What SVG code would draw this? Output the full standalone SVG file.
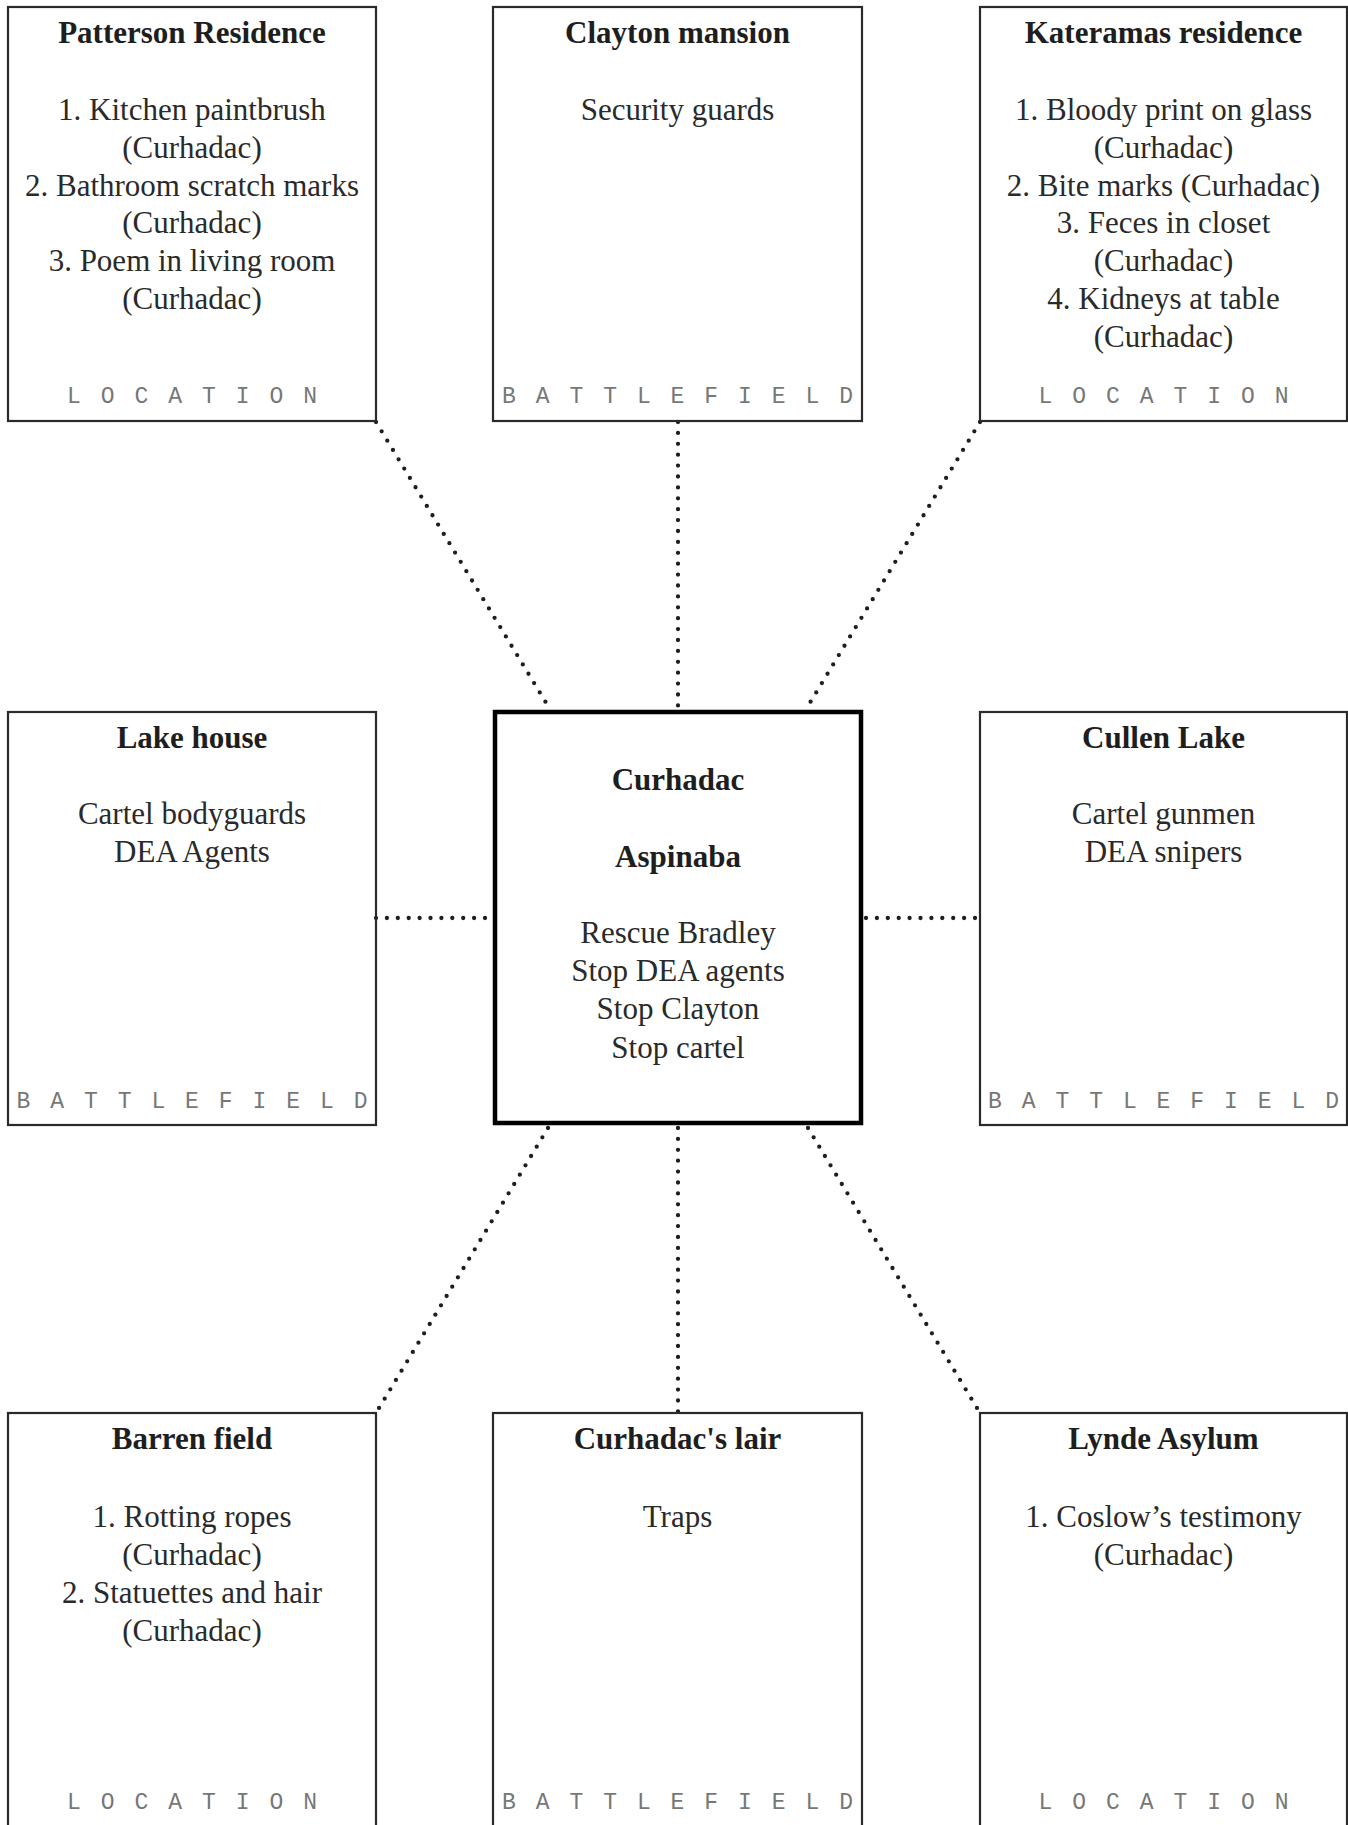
<svg xmlns="http://www.w3.org/2000/svg" width="1348" height="1825" viewBox="0 0 1348 1825">
<style>
.box{fill:none;stroke:#2a2a2a;stroke-width:2.2}
.main{fill:none;stroke:#000;stroke-width:4.5}
.t{font-family:"Liberation Serif","Times New Roman",serif;font-size:31px;font-weight:bold;fill:#1e1e1e;text-anchor:middle}
.b{font-family:"Liberation Serif","Times New Roman",serif;font-size:31px;fill:#2a2a2a;text-anchor:middle}
.lab{font-family:"Liberation Mono","Courier New",monospace;font-size:23px;fill:#777;text-anchor:middle}
.c{stroke:#1e1e1e;stroke-width:4.3;stroke-linecap:round;stroke-dasharray:0 10.9;fill:none}
</style>
<rect width="1348" height="1825" fill="#fff"/>
<g id="connectors">
<line class="c" x1="376" y1="422" x2="548" y2="706"/>
<line class="c" x1="678" y1="422" x2="678" y2="708"/>
<line class="c" x1="980" y1="422" x2="808" y2="706"/>
<line class="c" x1="376" y1="918" x2="490" y2="918"/>
<line class="c" x1="866" y1="918" x2="980" y2="918"/>
<line class="c" x1="548" y1="1128" x2="376" y2="1413"/>
<line class="c" x1="678" y1="1128" x2="678" y2="1413"/>
<line class="c" x1="808" y1="1128" x2="980" y2="1413"/>
</g>
<g id="patterson">
<rect class="box" x="8" y="7" width="368" height="414"/>
<text class="t" x="192" y="43">Patterson Residence</text>
<text class="b" x="192" y="120">1. Kitchen paintbrush</text>
<text class="b" x="192" y="158">(Curhadac)</text>
<text class="b" x="192" y="196">2. Bathroom scratch marks</text>
<text class="b" x="192" y="233">(Curhadac)</text>
<text class="b" x="192" y="271">3. Poem in living room</text>
<text class="b" x="192" y="309">(Curhadac)</text>
<text class="lab" x="192" y="403" textLength="250" lengthAdjust="spacing">LOCATION</text>
</g>
<g id="clayton">
<rect class="box" x="493" y="7" width="369" height="414"/>
<text class="t" x="677.5" y="43">Clayton mansion</text>
<text class="b" x="677.5" y="120">Security guards</text>
<text class="lab" x="677.5" y="403" textLength="351" lengthAdjust="spacing">BATTLEFIELD</text>
</g>
<g id="kateramas">
<rect class="box" x="980" y="7" width="367" height="414"/>
<text class="t" x="1163.5" y="43">Kateramas residence</text>
<text class="b" x="1163.5" y="120">1. Bloody print on glass</text>
<text class="b" x="1163.5" y="158">(Curhadac)</text>
<text class="b" x="1163.5" y="196">2. Bite marks (Curhadac)</text>
<text class="b" x="1163.5" y="233">3. Feces in closet</text>
<text class="b" x="1163.5" y="271">(Curhadac)</text>
<text class="b" x="1163.5" y="309">4. Kidneys at table</text>
<text class="b" x="1163.5" y="347">(Curhadac)</text>
<text class="lab" x="1163.5" y="403" textLength="250" lengthAdjust="spacing">LOCATION</text>
</g>
<g id="lakehouse">
<rect class="box" x="8" y="712" width="368" height="413"/>
<text class="t" x="192" y="748">Lake house</text>
<text class="b" x="192" y="824">Cartel bodyguards</text>
<text class="b" x="192" y="862">DEA Agents</text>
<text class="lab" x="192" y="1108" textLength="351" lengthAdjust="spacing">BATTLEFIELD</text>
</g>
<g id="center">
<rect class="main" x="495" y="712" width="366" height="411"/>
<text class="t" x="678" y="790">Curhadac</text>
<text class="t" x="678" y="867">Aspinaba</text>
<text class="b" x="678" y="943">Rescue Bradley</text>
<text class="b" x="678" y="981">Stop DEA agents</text>
<text class="b" x="678" y="1019">Stop Clayton</text>
<text class="b" x="678" y="1058">Stop cartel</text>
</g>
<g id="cullen">
<rect class="box" x="980" y="712" width="367" height="413"/>
<text class="t" x="1163.5" y="748">Cullen Lake</text>
<text class="b" x="1163.5" y="824">Cartel gunmen</text>
<text class="b" x="1163.5" y="862">DEA snipers</text>
<text class="lab" x="1163.5" y="1108" textLength="351" lengthAdjust="spacing">BATTLEFIELD</text>
</g>
<g id="barren">
<rect class="box" x="8" y="1413" width="368" height="430"/>
<text class="t" x="192" y="1449">Barren field</text>
<text class="b" x="192" y="1527">1. Rotting ropes</text>
<text class="b" x="192" y="1565">(Curhadac)</text>
<text class="b" x="192" y="1603">2. Statuettes and hair</text>
<text class="b" x="192" y="1641">(Curhadac)</text>
<text class="lab" x="192" y="1809" textLength="250" lengthAdjust="spacing">LOCATION</text>
</g>
<g id="lair">
<rect class="box" x="493" y="1413" width="369" height="430"/>
<text class="t" x="677.5" y="1449">Curhadac's lair</text>
<text class="b" x="677.5" y="1527">Traps</text>
<text class="lab" x="677.5" y="1809" textLength="351" lengthAdjust="spacing">BATTLEFIELD</text>
</g>
<g id="lynde">
<rect class="box" x="980" y="1413" width="367" height="430"/>
<text class="t" x="1163.5" y="1449">Lynde Asylum</text>
<text class="b" x="1163.5" y="1527">1. Coslow’s testimony</text>
<text class="b" x="1163.5" y="1565">(Curhadac)</text>
<text class="lab" x="1163.5" y="1809" textLength="250" lengthAdjust="spacing">LOCATION</text>
</g>
</svg>
